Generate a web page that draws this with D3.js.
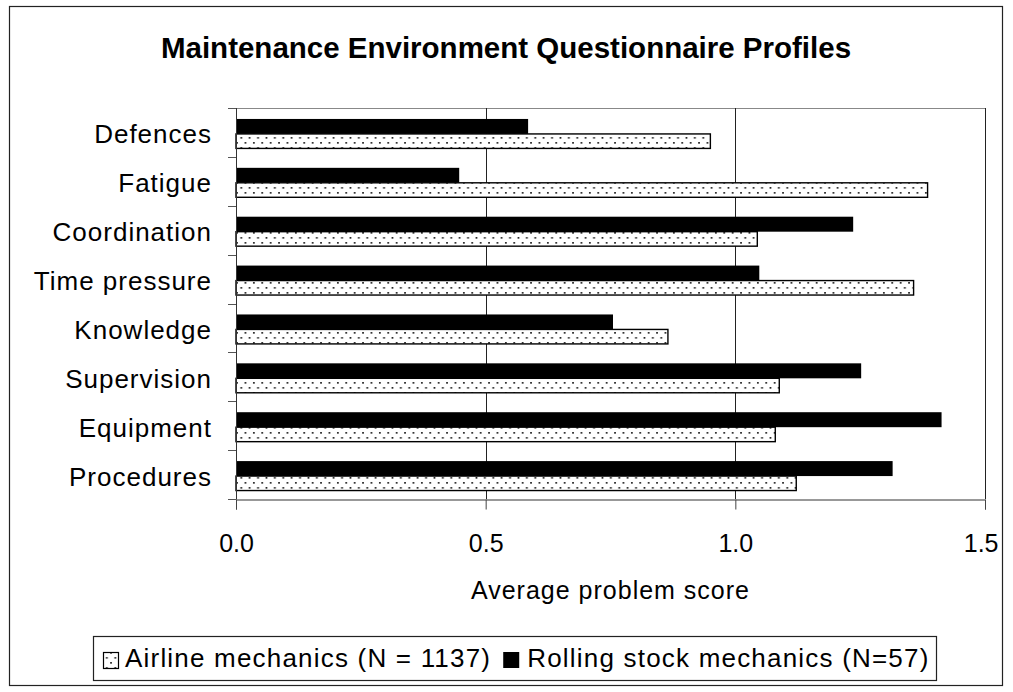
<!DOCTYPE html>
<html>
<head>
<meta charset="utf-8">
<script src="https://cdn.jsdelivr.net/npm/d3@7"></script>
<style>
  html, body { margin: 0; padding: 0; background: #fff; }
  svg { display: block; }
  text { font-family: "Liberation Sans", Arial, sans-serif; fill: #000; }
</style>
</head>
<body>
<svg id="chart" width="1013" height="692"></svg>
<script>
// ---- data ----
const categories = ["Defences", "Fatigue", "Coordination", "Time pressure", "Knowledge", "Supervision", "Equipment", "Procedures"];
const airlineValues = [0.95, 1.385, 1.044, 1.357, 0.865, 1.088, 1.080, 1.122];
const rollingValues = [0.585, 0.447, 1.236, 1.048, 0.755, 1.252, 1.413, 1.315];
const xTickValues = [0, 0.5, 1.0, 1.5];
const seriesNames = ["Airline mechanics (N = 1137)", "Rolling stock mechanics (N=57)"];
const titleText = "Maintenance Environment Questionnaire Profiles";
const xAxisTitle = "Average problem score";

const svg = d3.select("#chart");
const plot = { left: 236, right: 985, top: 108, bottom: 499 };
const chartRight = 1003;

// pattern
const defs = svg.append("defs");
const pat = defs.append("pattern").attr("id", "dots")
  .attr("patternUnits", "userSpaceOnUse").attr("width", 8.4).attr("height", 10);
pat.append("rect").attr("width", 8.4).attr("height", 10).attr("fill", "#fff");
pat.append("rect").attr("x", 1).attr("y", 2).attr("width", 1.7).attr("height", 1.7).attr("fill", "#222");
pat.append("rect").attr("x", 5.2).attr("y", 7).attr("width", 1.7).attr("height", 1.7).attr("fill", "#222");

// outer border
svg.append("rect").attr("x", 9.5).attr("y", 6.5).attr("width", chartRight - 10).attr("height", 679)
  .attr("fill", "#fff").attr("stroke", "#222").attr("stroke-width", 1.2);

// title
svg.append("text").attr("x", 506).attr("y", 58).attr("text-anchor", "middle")
  .attr("font-size", 29.5).attr("font-weight", "bold").text(titleText);

// scales
const x = d3.scaleLinear().domain([0, 1.5]).range([plot.left, plot.right]);
const y = d3.scaleBand().domain(categories).range([plot.top, plot.bottom])
  .paddingInner(0.387).paddingOuter(0.1935);
const sub = d3.scaleBand().domain(["rolling", "airline"]).range([0, y.bandwidth()]);

// plot area border (top & right)
svg.append("path")
  .attr("d", `M${plot.left},${plot.top + 0.5}H${plot.right + 0.5}V${plot.bottom}`)
  .attr("fill", "none").attr("stroke", "#888").attr("stroke-width", 1);

// gridlines
svg.append("g").selectAll("line").data(xTickValues.filter(d => d > 0)).join("line")
  .attr("x1", d => Math.round(x(d)) + 0.5).attr("x2", d => Math.round(x(d)) + 0.5)
  .attr("y1", plot.top).attr("y2", plot.bottom)
  .attr("stroke", "#222").attr("stroke-width", 1);

// bars
const rows = categories.map((c, i) => ({ c, airline: airlineValues[i], rolling: rollingValues[i] }));
const g = svg.append("g");
g.selectAll("rect.roll").data(rows).join("rect").attr("class", "roll")
  .attr("x", x(0)).attr("y", d => y(d.c) + sub("rolling") + 1.5)
  .attr("width", d => x(d.rolling) - x(0)).attr("height", sub.bandwidth())
  .attr("fill", "#000");
g.selectAll("rect.air").data(rows).join("rect").attr("class", "air")
  .attr("x", x(0)).attr("y", d => y(d.c) + sub("airline") + 1.5)
  .attr("width", d => x(d.airline) - x(0)).attr("height", sub.bandwidth() - 0.5)
  .attr("fill", "url(#dots)").attr("stroke", "#000").attr("stroke-width", 1.4);

// y axis
const yAxis = svg.append("g");
yAxis.append("line").attr("x1", plot.left + 0.5).attr("x2", plot.left + 0.5)
  .attr("y1", plot.top).attr("y2", plot.bottom + 0.5).attr("stroke", "#333");
const bounds = d3.range(categories.length + 1).map(i => plot.top + i * y.step());
yAxis.selectAll("line.tick").data(bounds).join("line").attr("class", "tick")
  .attr("x1", plot.left - 8).attr("x2", plot.left)
  .attr("y1", d => Math.round(d) + 0.5).attr("y2", d => Math.round(d) + 0.5)
  .attr("stroke", "#555");
yAxis.selectAll("text").data(categories).join("text")
  .attr("x", 212).attr("y", d => y(d) + y.bandwidth() / 2 + 1.5 + 9.5)
  .attr("text-anchor", "end").attr("font-size", 26).attr("letter-spacing", 1)
  .text(d => d);

// x axis
const xAxisG = svg.append("g").attr("transform", `translate(0,${plot.bottom + 0.5})`)
  .call(d3.axisBottom(x).tickValues(xTickValues).tickFormat(d3.format(".1f")).tickSize(10).tickPadding(25));
xAxisG.select(".domain").attr("stroke", "#333");
xAxisG.selectAll(".tick line").attr("stroke", "#444");
xAxisG.selectAll(".tick text").attr("font-size", 25)
  .attr("font-family", "Liberation Sans, Arial, sans-serif").attr("fill", "#000")
  .each(function (d) {
    // keep labels inside the chart frame (as the original does for the last label)
    const w = this.getComputedTextLength();
    const overflow = x(d) + w / 2 - (chartRight - 5);
    if (overflow > 0) d3.select(this).attr("dx", -overflow);
  });

svg.append("text").attr("x", (plot.left + plot.right) / 2).attr("y", 599)
  .attr("text-anchor", "middle").attr("font-size", 25).attr("letter-spacing", 1)
  .text(xAxisTitle);

// legend
const lg = svg.append("g");
lg.append("rect").attr("x", 93.5).attr("y", 636.5).attr("width", 843).attr("height", 44)
  .attr("fill", "#fff").attr("stroke", "#222").attr("stroke-width", 1.2);
lg.append("rect").attr("x", 103.5).attr("y", 652.5).attr("width", 15).attr("height", 16)
  .attr("fill", "url(#dots)").attr("stroke", "#000").attr("stroke-width", 1.2);
const t1 = lg.append("text").attr("x", 125).attr("y", 667).attr("font-size", 26)
  .attr("letter-spacing", 1.2).text(seriesNames[0]);
const w1 = t1.node().getComputedTextLength();
lg.append("rect").attr("x", 125 + w1 + 12).attr("y", 652).attr("width", 16).attr("height", 16)
  .attr("fill", "#000");
lg.append("text").attr("x", 125 + w1 + 36).attr("y", 667).attr("font-size", 26)
  .attr("letter-spacing", 1.2).text(seriesNames[1]);
</script>
</body>
</html>
